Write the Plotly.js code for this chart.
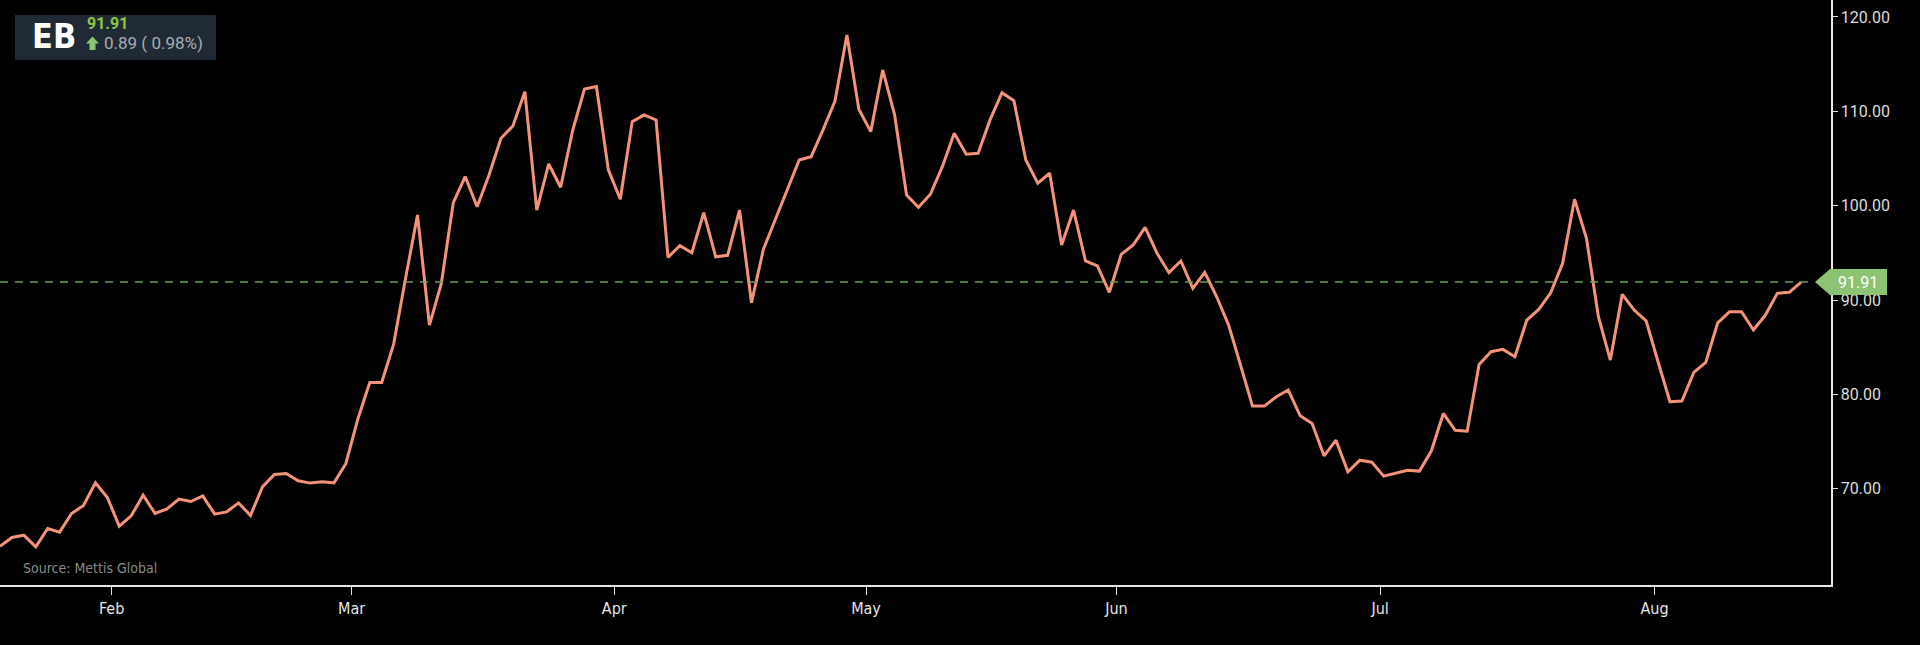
<!DOCTYPE html>
<html>
<head>
<meta charset="utf-8">
<script src="https://cdn.plot.ly/plotly-3.0.1.min.js"></script>
<style>
html,body{margin:0;padding:0;background:#000;}
#chart{width:1920px;height:645px;}
</style>
</head>
<body>
<div id="chart"></div>
<script>
// ---- data ----
const ticker = "EB";
const lastPrice = 91.91;
const change = 0.89;
const changePct = 0.98;
const sourceText = "Source: Mettis Global";
const monthLabels = ["Feb", "Mar", "Apr", "May", "Jun", "Jul", "Aug"];
const monthTickIdx = [9.36, 29.48, 51.5, 72.6, 93.6, 115.7, 138.7];
const yTicks = [70, 80, 90, 100, 110, 120];
const closes = [
  63.90, 64.84, 65.08, 63.84, 65.79, 65.40, 67.38, 68.23, 70.63, 69.08,
  66.03, 67.13, 69.32, 67.38, 67.87, 68.90, 68.65, 69.25, 67.31, 67.55,
  68.50, 67.17, 70.20, 71.52, 71.62, 70.84, 70.60, 70.73, 70.63, 72.68,
  77.40, 81.27, 81.27, 85.33, 92.30, 99.01, 87.35, 91.77, 100.32, 103.08,
  99.89, 103.26, 107.15, 108.45, 112.09, 99.54, 104.42, 101.95, 107.92, 112.37,
  112.62, 103.79, 100.68, 108.91, 109.62, 109.09, 94.53, 95.76, 95.02, 99.26,
  94.59, 94.74, 99.54, 89.71, 95.38, 98.48, 101.66, 104.84, 105.20, 108.03,
  111.10, 118.10, 110.22, 107.85, 114.39, 109.62, 101.14, 99.83, 101.21, 104.14,
  107.68, 105.45, 105.56, 109.09, 111.98, 111.13, 104.85, 102.38, 103.44, 95.83,
  99.54, 94.14, 93.61, 90.82, 94.85, 95.83, 97.71, 94.95, 92.90, 94.14,
  91.24, 92.94, 90.35, 87.35, 83.11, 78.76, 78.76, 79.75, 80.46, 77.73,
  76.92, 73.49, 75.15, 71.79, 73.03, 72.82, 71.34, 71.62, 71.97, 71.87,
  74.02, 77.98, 76.20, 76.10, 83.18, 84.52, 84.77, 83.99, 87.88, 89.01,
  90.77, 93.89, 100.68, 96.54, 88.23, 83.64, 90.60, 88.94, 87.80, 83.46,
  79.22, 79.29, 82.33, 83.39, 87.59, 88.76, 88.76, 86.82, 88.41, 90.71,
  90.82, 91.91
];

// ---- layout constants ----
const W = 1920, H = 645;
const mL = 0, mR = 89, mT = 0, mB = 60;
const PW = W - mL - mR, PH = H - mT - mB;
const yRange = [59.8, 121.8];
const xRange = [0, 153.5];
const px = v => v / PW;             // pixel x inside plot -> paper
const py = v => 1 - v / PH;         // pixel y inside plot -> paper
const yPix = val => PH * (yRange[1] - val) / (yRange[1] - yRange[0]);

const xIdx = closes.map((_, i) => i);
const lineColor = "#f4937a";
const green = "#8cc474";
const condensed = "'Liberation Sans Narrow', 'DejaVu Sans Condensed', Roboto, sans-serif";

const lastY = yPix(lastPrice);
function pathStr(pts) {
  return "M " + pts.map(p => px(p[0]) + "," + py(p[1])).join(" L ") + " Z";
}

const traces = [{
  type: "scatter",
  mode: "lines",
  x: xIdx,
  y: closes,
  line: { color: lineColor, width: 3 },
  hoverinfo: "skip",
  showlegend: false
}];

const shapes = [
  // dashed last-price line
  { type: "line", xref: "paper", yref: "y", x0: 0, x1: px(1812), y0: lastPrice, y1: lastPrice,
    line: { color: "#6a9f55", width: 1.5, dash: "8px,7px" } },
  // ticker badge background
  { type: "rect", xref: "paper", yref: "paper", x0: px(15), x1: px(216), y0: py(60), y1: py(15),
    fillcolor: "#1f2a35", line: { width: 0 }, layer: "above" },
  // up arrow
  { type: "path", xref: "paper", yref: "paper", layer: "above",
    path: pathStr([[92.5, 36.5], [99, 43.5], [95.5, 43.5], [95.5, 50], [89.5, 50], [89.5, 43.5], [86, 43.5]]),
    fillcolor: green, line: { width: 0 } },
  // price tag at right axis
  { type: "path", xref: "paper", yref: "paper", layer: "above",
    path: pathStr([[PW - 16, lastY], [PW - 1, lastY - 13], [PW + 56, lastY - 13], [PW + 56, lastY + 13], [PW - 1, lastY + 13]]),
    fillcolor: green, line: { width: 0 } }
];

const annotations = [
  { xref: "paper", yref: "paper", x: px(30), y: py(36), xanchor: "left", yanchor: "middle",
    text: "<b>" + ticker + "</b>", showarrow: false,
    font: { family: condensed, size: 34, color: "#ffffff" } },
  { xref: "paper", yref: "paper", x: px(85), y: py(24), xanchor: "left", yanchor: "middle",
    text: "<b>" + lastPrice.toFixed(2) + "</b>", showarrow: false,
    font: { family: "Roboto, 'Noto Sans', sans-serif", size: 16, color: "#8dc63f" } },
  { xref: "paper", yref: "paper", x: px(102), y: py(43.5), xanchor: "left", yanchor: "middle",
    text: change.toFixed(2) + " ( " + changePct.toFixed(2) + "%)", showarrow: false,
    font: { family: "Roboto, 'Noto Sans', sans-serif", size: 17, color: "#a9adb1" } },
  { xref: "paper", yref: "paper", x: px(PW + 27), y: py(lastY), xanchor: "center", yanchor: "middle",
    text: lastPrice.toFixed(2), showarrow: false,
    font: { family: "Roboto, 'Noto Sans', sans-serif", size: 16, color: "#ffffff" } },
  { xref: "paper", yref: "paper", x: px(21), y: py(568), xanchor: "left", yanchor: "middle",
    text: sourceText, showarrow: false,
    font: { family: condensed, size: 14, color: "#8a8a8a" } }
];

const layout = {
  width: W, height: H,
  margin: { l: mL, r: mR, t: mT, b: mB, pad: 0, autoexpand: false },
  paper_bgcolor: "#000000",
  plot_bgcolor: "#000000",
  showlegend: false,
  xaxis: {
    range: xRange,
    tickvals: monthTickIdx,
    ticktext: monthLabels,
    showgrid: false, zeroline: false,
    showline: true, linecolor: "#e6e6e6", linewidth: 1.5,
    ticks: "outside", ticklen: 8, tickcolor: "#e6e6e6", tickwidth: 1,
    tickfont: { family: condensed, size: 16, color: "#e6e6e6" },
    fixedrange: true
  },
  yaxis: {
    side: "right",
    range: yRange,
    tickvals: yTicks,
    tickformat: ".2f",
    showgrid: false, zeroline: false,
    showline: true, linecolor: "#e6e6e6", linewidth: 1.5,
    ticks: "outside", ticklen: 5, tickcolor: "#e6e6e6", tickwidth: 1,
    tickfont: { family: "Roboto, 'Noto Sans', sans-serif", size: 16, color: "#dcdcdc" },
    fixedrange: true
  },
  shapes: shapes,
  annotations: annotations
};

Plotly.newPlot("chart", traces, layout, { displayModeBar: false, staticPlot: true });
</script>
</body>
</html>
